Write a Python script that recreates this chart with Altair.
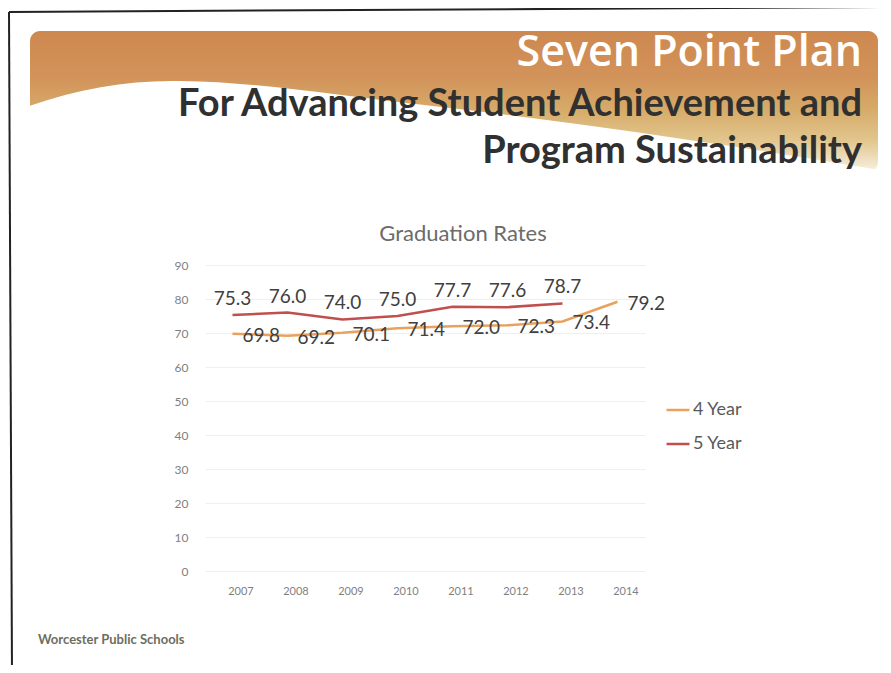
import altair as alt
import pandas as pd

# ---------------- data ----------------
years = ["2007", "2008", "2009", "2010", "2011", "2012", "2013", "2014"]
four_year = [69.8, 69.2, 70.1, 71.4, 72.0, 72.3, 73.4, 79.2]
five_year_years = ["2007", "2008", "2009", "2010", "2011", "2012", "2013"]
five_year = [75.3, 76.0, 74.0, 75.0, 77.7, 77.6, 78.7]
series_names = ["4 Year", "5 Year"]
series_colors = ["#e8a25e", "#c0504d"]
y_ticks = [0, 10, 20, 30, 40, 50, 60, 70, 80, 90]

chart_title = "Graduation Rates"
header_1 = "Seven Point Plan"
header_2 = "For Advancing Student Achievement and"
header_3 = "Program Sustainability"
footer = "Worcester Public Schools"

rows = [{"year": y, "series": "4 Year", "value": v} for y, v in zip(years, four_year)]
rows += [{"year": y, "series": "5 Year", "value": v} for y, v in zip(five_year_years, five_year)]
df = pd.DataFrame(rows)
one = pd.DataFrame({"k": [0]})

# page position of the plot origin (plot area 440 x 306)
OX, OY = 205, 265
W, H = 440, 306


def px(x):
    return x - OX


def py(y):
    return y - OY


x_enc = alt.X(
    "year:O",
    sort=years,
    scale=alt.Scale(type="point", padding=0.5, domain=years),
    axis=alt.Axis(title=None, labelAngle=0, domain=False, ticks=False, grid=False,
                  labelPadding=14, labelOffset=8, labelFont="Lato", labelFontSize=11,
                  labelColor="#7f7f7f"),
)
y_enc = alt.Y(
    "value:Q",
    scale=alt.Scale(domain=[0, 90], nice=False),
    axis=alt.Axis(title=None, values=y_ticks, domain=False, ticks=False, grid=True,
                  gridColor="#efefef", gridWidth=1, labelPadding=17, labelFont="Lato",
                  labelFontSize=12, labelColor="#7f7f7f"),
)
color_enc = alt.Color(
    "series:N",
    scale=alt.Scale(domain=series_names, range=series_colors),
    legend=alt.Legend(title=None, orient="none", legendX=460, legendY=132,
                      symbolType="stroke", symbolSize=529, symbolStrokeWidth=2.5,
                      labelFont="Lato", labelFontSize=18, labelColor="#595959",
                      rowPadding=12, labelOffset=2, padding=0),
)

base = alt.Chart(df)
lines = base.mark_line(strokeWidth=2.5).encode(x=x_enc, y=y_enc, color=color_enc)

lab4 = base.transform_filter(alt.datum.series == "4 Year").mark_text(
    align="left", baseline="middle", dx=10, dy=2, font="Lato", fontSize=19, color="#404040"
).encode(x=x_enc, y=y_enc, text=alt.Text("value:Q", format=".1f"))

lab5 = base.transform_filter(alt.datum.series == "5 Year").mark_text(
    align="center", baseline="alphabetic", dy=-10, font="Lato", fontSize=19, color="#404040"
).encode(x=x_enc, y=y_enc, text=alt.Text("value:Q", format=".1f"))

# ---------------- decorations ----------------
header_fill = alt.Gradient(
    gradient="linear", x1=0, x2=0, y1=0, y2=1,
    stops=[
        alt.GradientStop(color="#cd884f", offset=0),
        alt.GradientStop(color="#d2935a", offset=0.33),
        alt.GradientStop(color="#d6aa68", offset=0.55),
        alt.GradientStop(color="#e2c68e", offset=0.78),
        alt.GradientStop(color="#f8f1e2", offset=1),
    ],
)
header_rect = alt.Chart(one).mark_rect(cornerRadius=10, fill=header_fill).encode(
    x=alt.value(px(30)), x2=alt.value(px(878)), y=alt.value(py(31)), y2=alt.value(py(172))
)

WAVE = ("M -1.002 -0.0566 C -0.882 -0.099 -0.764 -0.118 -0.646 -0.1156 "
        "C -0.458 -0.1132 -0.292 -0.0825 -0.0094 -0.0519 "
        "C 0.344 -0.0118 0.722 0.0472 1.0047 0.0943 "
        "L 1.0047 0.17 L -1.002 0.17 Z")
wave = alt.Chart(one).mark_point(
    shape=WAVE, size=848 * 848, filled=True, fill="white", opacity=1, strokeWidth=0
).encode(x=alt.value(px(454)), y=alt.value(py(130)))

t1 = alt.Chart(one).mark_text(
    text=header_1, font="Open Sans", fontWeight=600, fontSize=43, color="white",
    align="right", baseline="alphabetic"
).encode(x=alt.value(px(862)), y=alt.value(py(66)))
t2 = alt.Chart(one).mark_text(
    text=header_2, font="Lato", fontWeight="bold", fontSize=38, color="#303030",
    align="right", baseline="alphabetic"
).encode(x=alt.value(px(862)), y=alt.value(py(116)))
t3 = alt.Chart(one).mark_text(
    text=header_3, font="Lato", fontWeight="bold", fontSize=38, color="#303030",
    align="right", baseline="alphabetic"
).encode(x=alt.value(px(862)), y=alt.value(py(163)))
t_title = alt.Chart(one).mark_text(
    text=chart_title, font="Lato", fontSize=22, color="#6b6b6b", align="center", baseline="alphabetic"
).encode(x=alt.value(px(463)), y=alt.value(py(241)))
t_foot = alt.Chart(one).mark_text(
    text=footer, font="Lato", fontWeight="bold", fontSize=13, color="#6e6e5e",
    align="left", baseline="alphabetic"
).encode(x=alt.value(px(38)), y=alt.value(py(644)))

border_top = alt.Chart(one).mark_rule(color="#222222", strokeWidth=2).encode(
    x=alt.value(px(9)), y=alt.value(py(12)), x2=alt.value(px(891)), y2=alt.value(py(7))
)
border_left = alt.Chart(one).mark_rule(color="#222222", strokeWidth=2).encode(
    x=alt.value(px(9)), y=alt.value(py(12)), x2=alt.value(px(12)), y2=alt.value(py(673))
)

chart = alt.layer(
    header_rect, wave, t1, t2, t3, t_title, t_foot, border_top, border_left,
    lines, lab4, lab5,
).properties(
    width=W, height=H,
    autosize=alt.AutoSizeParams(type="none"),
    padding={"left": OX - 8, "top": OY - 8, "right": 875 - (OX - 8) - W, "bottom": 657 - (OY - 8) - H},
    background="white",
).configure_view(stroke=None)

chart.save("out.html", embed_options={"renderer": "svg", "actions": False})
